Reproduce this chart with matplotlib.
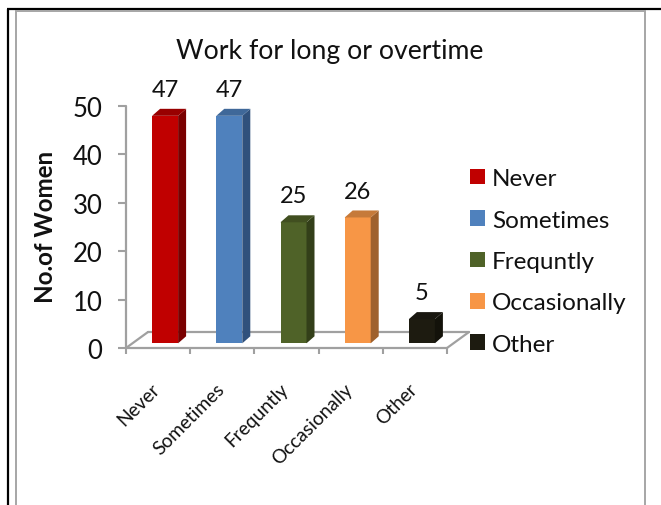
import matplotlib
matplotlib.use("Agg")
import matplotlib.pyplot as plt
from matplotlib.lines import Line2D
from matplotlib.patches import Polygon, Patch

categories = ["Never", "Sometimes", "Frequntly", "Occasionally", "Other"]
values = [47, 47, 25, 26, 5]
y_ticks = [0, 10, 20, 30, 40, 50]
front_colors = ["#C00000", "#4F81BD", "#4F6228", "#F79646", "#1D1B10"]
side_colors = ["#7A0000", "#30517C", "#333F19", "#9F612D", "#13120A"]
top_colors = ["#980000", "#3F6899", "#414F20", "#C67A3A", "#191710"]

W, H = 661, 506
plt.rcParams["font.family"] = ["Lato", "DejaVu Sans"]
fig = plt.figure(figsize=(W / 100, H / 100), dpi=100)
ax = fig.add_axes([126 / W, 1 - 349 / H, 321 / W, 242 / H])
ax.set_xlim(0, 5)
ax.set_ylim(0, 50)
ax.patch.set_alpha(0)
for s in ax.spines.values():
    s.set_visible(False)

px_x = 5 / 321
px_y = 50 / 242
GREY = "#A0A0A0"

# page rule and chart frame, in figure pixels
def frame_line(xs, ys, color, lw):
    fig.add_artist(Line2D([x / W for x in xs], [1 - y / H for y in ys],
                          color=color, lw=lw, solid_capstyle="butt"))

frame_line([8, 8], [10, H], "black", 1.6)
frame_line([7, W], [10, 10], "black", 1.6)
frame_line([16, 16], [11, H], "#A6A6A6", 1.4)
frame_line([16, 645], [11.5, 11.5], "#A6A6A6", 1.4)
frame_line([645, 645], [11, H], "#A6A6A6", 1.4)

# floor and value axis
depth_x, depth_y = 22 * px_x, 16 * px_y
floor_kw = dict(color=GREY, lw=1.6, clip_on=False, solid_capstyle="round")
ax.plot([0, 5], [0, 0], **floor_kw)
ax.plot([depth_x, 5 + depth_x], [depth_y, depth_y], **floor_kw)
ax.plot([0, depth_x], [0, depth_y], **floor_kw)
ax.plot([5, 5 + depth_x], [0, depth_y], **floor_kw)
ax.plot([0, 0], [0, 50], **floor_kw)

ax.set_xticks(range(6))
ax.set_xticklabels([])
ax.set_yticks(y_ticks)
ax.tick_params(axis="x", length=4.5, width=1.5, color=GREY, pad=0)
ax.tick_params(axis="y", length=6, width=1.5, color=GREY, labelsize=18.5, pad=11,
               labelcolor="#111111")

# raised bars: front face from the axes' bar call, top and side as polygons
lift = 4.7 * px_y
bar_w = 26 * px_x
dx, dy = 8 * px_x, 7 * px_y
shift = 7 * px_x
for i, v in enumerate(values):
    cx = i + 0.5 + shift
    x0, x1 = cx - bar_w / 2, cx + bar_w / 2
    y0, y1 = lift, lift + v
    ax.bar(cx, v, width=bar_w, bottom=lift, color=front_colors[i], zorder=3, clip_on=False)
    ax.add_patch(Polygon([(x1, y0), (x1 + dx, y0 + dy), (x1 + dx, y1 + dy), (x1, y1)],
                         closed=True, fc=side_colors[i], ec="none", zorder=3, clip_on=False))
    ax.add_patch(Polygon([(x0, y1), (x0 + dx, y1 + dy), (x1 + dx, y1 + dy), (x1, y1)],
                         closed=True, fc=top_colors[i], ec="none", zorder=3, clip_on=False))
    ax.annotate(str(v), (cx, y1 + dy), xytext=(0, 14), textcoords="offset points",
                ha="center", va="center", fontsize=17, color="#111111", annotation_clip=False)
    ax.annotate(categories[i], (i + 0.5, 0), xytext=(-5, -23), textcoords="offset points",
                rotation=45, rotation_mode="anchor", ha="right", va="top",
                fontsize=13.8, color="#111111", annotation_clip=False)

fig.text(330 / W, 1 - 51 / H, "Work for long or overtime", ha="center", va="center",
         fontsize=19.2, color="#111111")
fig.text(45.5 / W, 1 - 227 / H, "No.of Women", rotation=90, ha="center", va="center",
         fontsize=17.4, fontweight="bold", color="#111111")

handles = [Patch(fc=c, ec="none", label=n) for c, n in zip(front_colors, categories)]
ax.legend(handles=handles, loc="center left", bbox_to_anchor=(470 / W, 1 - 262.5 / H),
          bbox_transform=fig.transFigure, frameon=False, fontsize=17.5, handlelength=0.62,
          handleheight=0.62, handletextpad=0.28, labelspacing=0.84, borderpad=0,
          borderaxespad=0, labelcolor="#111111")

fig.savefig("out.png", dpi=100)
